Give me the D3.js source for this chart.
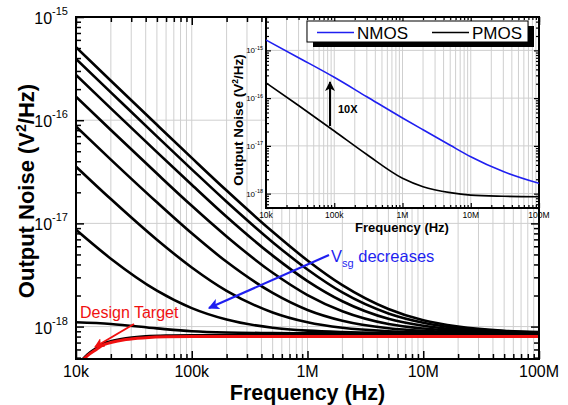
<!DOCTYPE html>
<html>
<head>
<meta charset="utf-8">
<script src="https://cdn.jsdelivr.net/npm/d3@7"></script>
<style>
  body { margin: 0; background: #fff; }
  svg { display: block; font-family: Arial, "Liberation Sans", sans-serif; }
</style>
</head>
<body>
<svg id="chart" width="568" height="405"></svg>
<script>
const freqs = [1e4, 2e4, 5e4, 1e5, 2e5, 5e5, 1e6, 2e6, 5e6, 1e7, 2e7, 5e7, 1e8];

// output noise (V^2/Hz), one array per Vsg, highest Vsg first
const vsg1 = [5.09e-16, 2.41e-16, 9.02e-17, 4.31e-17, 2.08e-17, 8.29e-18, 4.37e-18, 2.52e-18, 1.48e-18, 1.15e-18, 1.00e-18, 9.1e-19, 8.84e-19];
const vsg2 = [3.92e-16, 1.86e-16, 6.96e-17, 3.34e-17, 1.62e-17, 6.58e-18, 3.57e-18, 2.14e-18, 1.34e-18, 1.09e-18, 9.66e-19, 9.0e-19, 8.79e-19];
const vsg3 = [2.75e-16, 1.30e-16, 4.90e-17, 2.37e-17, 1.16e-17, 4.87e-18, 2.76e-18, 1.76e-18, 1.19e-18, 1.02e-18, 9.35e-19, 8.88e-19, 8.73e-19];
const vsg4 = [1.69e-16, 8.03e-17, 3.04e-17, 1.48e-17, 7.47e-18, 3.32e-18, 2.02e-18, 1.41e-18, 1.06e-18, 9.57e-19, 9.06e-19, 8.77e-19, 8.68e-19];
const vsg5 = [8.68e-17, 4.15e-17, 1.60e-17, 8.01e-18, 4.24e-18, 2.12e-18, 1.45e-18, 1.14e-18, 9.65e-19, 9.09e-19, 8.83e-19, 8.69e-19, 8.64e-19];
const vsg6 = [3.55e-17, 1.72e-17, 6.94e-18, 3.74e-18, 2.22e-18, 1.37e-18, 1.10e-18, 9.73e-19, 9.02e-19, 8.80e-19, 8.69e-19, 8.64e-19, 8.62e-19];
const vsg7 = [8.67e-18, 4.55e-18, 2.23e-18, 1.51e-18, 1.17e-18, 9.74e-19, 9.14e-19, 8.86e-19, 8.70e-19, 8.65e-19, 8.62e-19, 8.61e-19, 8.60e-19];
const vsg8 = [1.10e-18, 1.06e-18, 9.6e-19, 9.0e-19, 8.75e-19, 8.65e-19, 8.6e-19, 8.58e-19, 8.57e-19, 8.56e-19, 8.55e-19, 8.55e-19, 8.55e-19];
const vsgCurves = [vsg1, vsg2, vsg3, vsg4, vsg5, vsg6, vsg7, vsg8];

// design target (red) and the black curve lying just under it
const targetFreqs = [1e4, 1.1e4, 1.25e4, 1.5e4, 1.7e4, 2e4, 2.7e4, 4e4, 6e4, 1e5, 1e6, 1e7, 1e8];
const designTarget = [3.9e-19, 4.5e-19, 5.2e-19, 6.0e-19, 6.6e-19, 7.0e-19, 7.5e-19, 7.8e-19, 7.95e-19, 8.0e-19, 8.0e-19, 8.0e-19, 8.0e-19];
const underTarget = [4.0e-19, 4.6e-19, 5.35e-19, 6.2e-19, 6.8e-19, 7.2e-19, 7.7e-19, 8.05e-19, 8.2e-19, 8.25e-19, 8.3e-19, 8.3e-19, 8.3e-19];

// inset: NMOS vs PMOS
const insetFreqs = [1e4, 3e4, 1e5, 3e5, 1e6, 2e6, 5e6, 1e7, 3e7, 1e8];
const insetNmos = [1.65e-15, 7.03e-16, 2.73e-16, 1.07e-16, 3.84e-17, 2.17e-17, 1.03e-17, 5.93e-18, 2.9e-18, 1.64e-18];
const insetPmos = [2.1e-16, 7.0e-17, 2.05e-17, 6.6e-18, 2.1e-18, 1.4e-18, 1.05e-18, 9.3e-19, 8.8e-19, 8.6e-19];

const xTickVals = [1e4, 1e5, 1e6, 1e7, 1e8];
const xTickLabels = ["10k", "100k", "1M", "10M", "100M"];
const yTickExps = [-15, -16, -17, -18];

const blue = "#1f1ff0", red = "#f01010";

const svg    = d3.select("#chart"),
      margin = {top: 17, right: 29, bottom: 46, left: 76},
      W      = +svg.attr("width"),
      H      = +svg.attr("height"),
      x      = d3.scaleLog().domain([1e4, 1e8]).range([margin.left, W - margin.right]),
      y      = d3.scaleLog().domain([4.85e-19, 1e-15]).range([H - margin.bottom, margin.top]);

// inset scales
const ix = d3.scaleLog().domain([1e4, 1e8]).range([266, 539]),
      iy = d3.scaleLog().domain([5e-19, 5e-15]).range([208, 17]);

// all 1..9 x 10^n values inside a domain
function logTicks(lo, hi) {
  const t = [];
  for (let e = Math.floor(Math.log10(lo)); e <= Math.ceil(Math.log10(hi)); e++)
    for (let m = 1; m < 10; m++) {
      const v = m * Math.pow(10, e);
      if (v >= lo * 0.999 && v <= hi * 1.001) t.push(v);
    }
  return t;
}
const isMajor = v => Math.abs(Math.log10(v) - Math.round(Math.log10(v))) < 1e-6;

const defs = svg.append("defs");
defs.append("clipPath").attr("id", "clipMain").append("rect")
    .attr("x", x.range()[0]).attr("y", y.range()[1])
    .attr("width", x.range()[1] - x.range()[0]).attr("height", y.range()[0] - y.range()[1]);
defs.append("clipPath").attr("id", "clipInset").append("rect")
    .attr("x", ix.range()[0]).attr("y", iy.range()[1])
    .attr("width", ix.range()[1] - ix.range()[0]).attr("height", iy.range()[0] - iy.range()[1]);
[["headBlue", blue], ["headRed", red], ["headBlack", "#000"]].forEach(([id, c]) => {
  defs.append("marker").attr("id", id)
      .attr("viewBox", "0 0 10 10").attr("refX", 9).attr("refY", 5)
      .attr("markerWidth", 5).attr("markerHeight", 5).attr("orient", "auto")
      .append("path").attr("d", "M0,0 L10,5 L0,10 L2.5,5 Z").attr("fill", c);
});

// grid, mirrored inward ticks and frame
function drawFrame(g, xs, ys, majLen, minLen, tickW) {
  const [x0, x1] = xs.range(), [y0, y1] = ys.range();
  const xt = logTicks(...xs.domain()), yt = logTicks(...ys.domain());

  g.append("g").selectAll("line").data(xt).join("line")
      .attr("x1", d => xs(d)).attr("x2", d => xs(d)).attr("y1", y1).attr("y2", y0)
      .attr("stroke", "#cfcfcf").attr("stroke-width", 1);
  g.append("g").selectAll("line").data(yt.filter(isMajor)).join("line")
      .attr("y1", d => ys(d)).attr("y2", d => ys(d)).attr("x1", x0).attr("x2", x1)
      .attr("stroke", "#cfcfcf").attr("stroke-width", 1);

  const sides = [
    [d3.axisBottom(xs), `translate(0,${y0})`, xt],
    [d3.axisTop(xs), `translate(0,${y1})`, xt],
    [d3.axisLeft(ys), `translate(${x0},0)`, yt],
    [d3.axisRight(ys), `translate(${x1},0)`, yt]
  ];
  sides.forEach(([ax, tr, vals]) => {
    [[vals.filter(isMajor), majLen], [vals.filter(v => !isMajor(v)), minLen]].forEach(([tv, len]) => {
      const a = g.append("g").attr("transform", tr)
          .call(ax.tickValues(tv).tickSize(-len).tickFormat(""));
      a.select(".domain").remove();
      a.selectAll("line").attr("stroke", "#000").attr("stroke-width", tickW);
    });
  });
  g.append("rect").attr("x", x0).attr("y", y1).attr("width", x1 - x0).attr("height", y0 - y1)
      .attr("fill", "none").attr("stroke", "#000").attr("stroke-width", 2);
}

// ---------- main plot ----------
const main = svg.append("g");
drawFrame(main, x, y, 8, 5, 1.5);

const line = (xs, ys, fx) => d3.line()
    .x((d, i) => xs(fx[i])).y(d => ys(d))
    .curve(d3.curveMonotoneX);

const curves = main.append("g").attr("clip-path", "url(#clipMain)");
curves.selectAll(".vsg").data(vsgCurves).join("path")
    .attr("class", "vsg")
    .attr("d", d => line(x, y, freqs)(d))
    .attr("fill", "none").attr("stroke", "#000").attr("stroke-width", 2.6);
curves.append("path").attr("d", line(x, y, targetFreqs)(underTarget))
    .attr("fill", "none").attr("stroke", "#000").attr("stroke-width", 2.6);
curves.append("path").attr("d", line(x, y, targetFreqs)(designTarget))
    .attr("fill", "none").attr("stroke", red).attr("stroke-width", 3);

// redraw frame edge over the curves
main.append("rect").attr("x", x.range()[0]).attr("y", y.range()[1])
    .attr("width", x.range()[1] - x.range()[0]).attr("height", y.range()[0] - y.range()[1])
    .attr("fill", "none").attr("stroke", "#000").attr("stroke-width", 2);

// tick labels
main.selectAll(".xlab").data(xTickLabels).join("text")
    .attr("x", (d, i) => x(xTickVals[i])).attr("y", H - margin.bottom + 18)
    .attr("text-anchor", "middle").attr("font-size", 16).text(d => d);
const ylab = main.selectAll(".ylab").data(yTickExps).join("text")
    .attr("x", margin.left - 8).attr("y", d => y(Math.pow(10, d)) + 7)
    .attr("text-anchor", "end").attr("font-size", 16);
ylab.append("tspan").text("10");
ylab.append("tspan").attr("dy", -9).attr("font-size", 11).text(d => d);

// axis titles
svg.append("text").attr("x", (x.range()[0] + x.range()[1]) / 2).attr("y", 400)
    .attr("text-anchor", "middle").attr("font-size", 21.5).attr("font-weight", "bold")
    .text("Frequency (Hz)");
const yt = svg.append("text").attr("transform", "translate(34,191) rotate(-90)")
    .attr("text-anchor", "middle").attr("font-size", 22).attr("font-weight", "bold");
yt.append("tspan").text("Output Noise (V");
yt.append("tspan").attr("dy", -8).attr("font-size", 14).text("2");
yt.append("tspan").attr("dy", 8).text("/Hz)");

// annotations
svg.append("line").attr("x1", 329).attr("y1", 255).attr("x2", 209).attr("y2", 308)
    .attr("stroke", blue).attr("stroke-width", 2.2).attr("marker-end", "url(#headBlue)");
const vsgTxt = svg.append("text").attr("x", 331).attr("y", 262).attr("font-size", 16.5).attr("fill", blue);
vsgTxt.append("tspan").text("V");
vsgTxt.append("tspan").attr("dy", 5).attr("font-size", 11).text("sg");
vsgTxt.append("tspan").attr("dy", -5).text(" decreases");

svg.append("text").attr("x", 80).attr("y", 318).attr("font-size", 16).attr("fill", red)
    .text("Design Target");
svg.append("line").attr("x1", 134).attr("y1", 324).attr("x2", 95).attr("y2", 347)
    .attr("stroke", red).attr("stroke-width", 2).attr("marker-end", "url(#headRed)");

// ---------- inset ----------
const inset = svg.append("g");
inset.append("rect").attr("x", ix.range()[0]).attr("y", iy.range()[1])
    .attr("width", ix.range()[1] - ix.range()[0]).attr("height", iy.range()[0] - iy.range()[1])
    .attr("fill", "#fff");
drawFrame(inset, ix, iy, 5, 3, 1.2);

const icurves = inset.append("g").attr("clip-path", "url(#clipInset)");
icurves.append("path").attr("d", line(ix, iy, insetFreqs)(insetNmos))
    .attr("fill", "none").attr("stroke", blue).attr("stroke-width", 1.6);
icurves.append("path").attr("d", line(ix, iy, insetFreqs)(insetPmos))
    .attr("fill", "none").attr("stroke", "#000").attr("stroke-width", 1.6);

inset.selectAll(".ixlab").data(xTickLabels).join("text")
    .attr("x", (d, i) => ix(xTickVals[i])).attr("y", 218)
    .attr("text-anchor", "middle").attr("font-size", 8.5).text(d => d);
const iylab = inset.selectAll(".iylab").data(yTickExps).join("text")
    .attr("x", 263).attr("y", d => iy(Math.pow(10, d)) + 3)
    .attr("text-anchor", "end").attr("font-size", 8);
iylab.append("tspan").text("10");
iylab.append("tspan").attr("dy", -3.5).attr("font-size", 5.5).text(d => d);

inset.append("text").attr("x", 402).attr("y", 232)
    .attr("text-anchor", "middle").attr("font-size", 13).attr("font-weight", "bold")
    .text("Frequency (Hz)");
const iyt = inset.append("text").attr("transform", "translate(243,120) rotate(-90)")
    .attr("text-anchor", "middle").attr("font-size", 13.5).attr("font-weight", "bold");
iyt.append("tspan").text("Output Noise (V");
iyt.append("tspan").attr("dy", -5).attr("font-size", 8.5).text("2");
iyt.append("tspan").attr("dy", 5).text("/Hz)");

// 10X arrow
inset.append("line").attr("x1", 330).attr("y1", 126).attr("x2", 330).attr("y2", 82)
    .attr("stroke", "#000").attr("stroke-width", 2).attr("marker-end", "url(#headBlack)");
inset.append("text").attr("x", 338).attr("y", 113).attr("font-size", 11).attr("font-weight", "bold")
    .text("10X");

// legend with drop shadow
const leg = inset.append("g");
leg.append("rect").attr("x", 313).attr("y", 26).attr("width", 221).attr("height", 21).attr("fill", "#000");
leg.append("rect").attr("x", 307).attr("y", 21).attr("width", 221).attr("height", 21)
    .attr("fill", "#fff").attr("stroke", "#000").attr("stroke-width", 1);
[["NMOS", blue, 317], ["PMOS", "#000", 432]].forEach(([name, c, lx]) => {
  leg.append("line").attr("x1", lx).attr("x2", lx + 37).attr("y1", 32.5).attr("y2", 32.5)
      .attr("stroke", c).attr("stroke-width", 1.5);
  leg.append("text").attr("x", lx + 40).attr("y", 38.5).attr("font-size", 17).text(name);
});
</script>
</body>
</html>
